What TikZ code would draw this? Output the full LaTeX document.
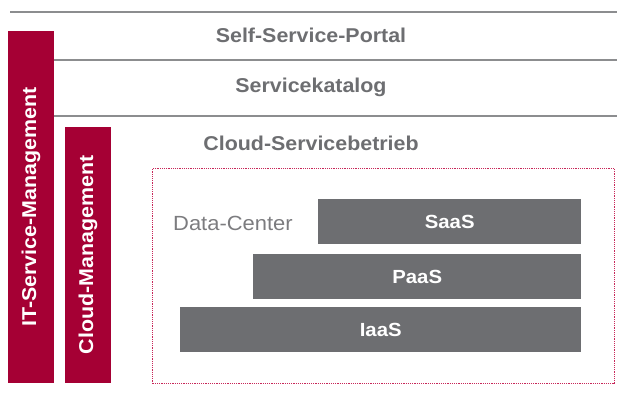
\documentclass[tikz,border=0pt]{standalone}
\usepackage{fontspec}
\usepackage{xcolor}
\setmainfont{Liberation Sans}[FakeStretch=1.07]
\definecolor{weinrot}{HTML}{A50034}
\definecolor{schiefer}{HTML}{6D6E71}
\definecolor{linie}{HTML}{8C8D8F}
\definecolor{punkt}{HTML}{C8285A}

\tikzset{
  layerline/.style={draw=linie, line width=1.5pt},
  layertext/.style={text=schiefer, font=\fontsize{20}{24}\selectfont\bfseries, anchor=base, inner sep=0pt},
  mgmtbar/.style={fill=weinrot, text=white, rotate=90, inner sep=0pt, font=\fontsize{20}{24}\selectfont\bfseries},
  xaasbox/.style={fill=schiefer, text=white, anchor=north west, inner sep=0pt, minimum height=45pt, font=\fontsize{19}{24}\selectfont\bfseries},
}

\begin{document}
\begin{tikzpicture}[x=1pt, y=-1pt]
  \useasboundingbox (0,0) rectangle (617,399);

  % Schichten
  \draw[layerline] (10,12) -- (617,12);
  \draw[layerline] (54,60) -- (617,60);
  \draw[layerline] (54,116) -- (617,116);
  \node[layertext] (portal) at (311,42) {Self-Service-Portal};
  \node[layertext] (katalog) at (311,92) {Servicekatalog};
  \node[layertext] (betrieb) at (311,150) {Cloud-Servicebetrieb};

  % Management-Saeulen
  \node[mgmtbar, minimum width=352pt, minimum height=46pt] (itsm) at (31,207) {IT-Service-Management};
  \node[mgmtbar, minimum width=256pt, minimum height=46pt] (cloudm) at (88,255) {Cloud-Management};

  % Rechenzentrum
  \node[draw=punkt, densely dotted, line width=1.2pt, anchor=north west, inner sep=0pt,
        minimum width=462pt, minimum height=215pt] (dc) at (152,168) {};
  \node[text=schiefer!90, anchor=base west, inner sep=0pt, font=\fontsize{20.5}{24}\selectfont] (dclabel) at (173,230) {Data-Center};
  \node[xaasbox, minimum width=263pt, minimum height=45pt] (saas) at (318,199) {SaaS};
  \node[xaasbox, minimum width=328pt] (paas) at (253,254) {PaaS};
  \node[xaasbox, minimum width=401pt] (iaas) at (180,307) {IaaS};
\end{tikzpicture}
\end{document}
